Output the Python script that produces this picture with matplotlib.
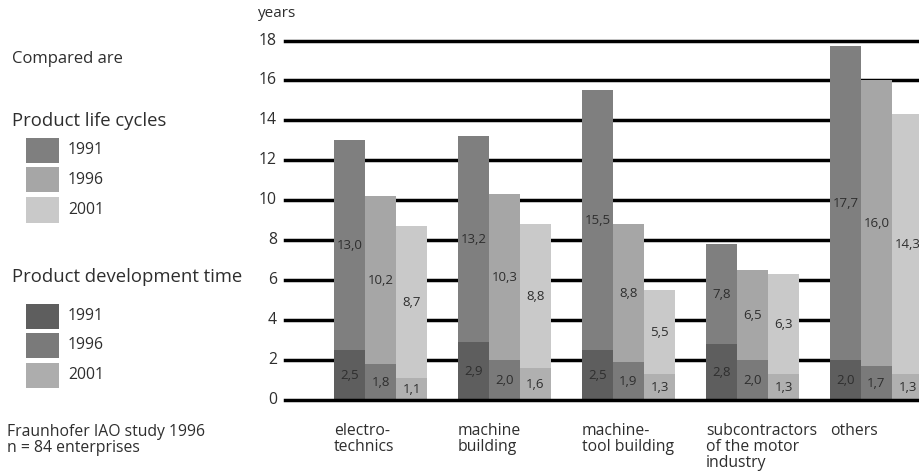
import matplotlib
matplotlib.use("Agg")
import matplotlib.pyplot as plt
from matplotlib.patches import Rectangle

plt.rcParams['font.family'] = ['Open Sans', 'DejaVu Sans']

# Industries and survey years
categories = ["electro-\ntechnics", "machine\nbuilding", "machine-\ntool building",
              "subcontractors\nof the motor\nindustry", "others"]
years = ["1991", "1996", "2001"]

# Product life cycles (years)
life_1991 = [13.0, 13.2, 15.5, 7.8, 17.7]
life_1996 = [10.2, 10.3, 8.8, 6.5, 16.0]
life_2001 = [8.7, 8.8, 5.5, 6.3, 14.3]

# Product development time (years)
dev_1991 = [2.5, 2.9, 2.5, 2.8, 2.0]
dev_1996 = [1.8, 2.0, 1.9, 2.0, 1.7]
dev_2001 = [1.1, 1.6, 1.3, 1.3, 1.3]

y_ticks = [0, 2, 4, 6, 8, 10, 12, 14, 16, 18]

life_colors = ["#7f7f7f", "#a6a6a6", "#c9c9c9"]
dev_colors = ["#5e5e5e", "#7a7a7a", "#b0b0b0"]
dev_legend_colors = ["#5e5e5e", "#7a7a7a", "#adadad"]
text_color = "#2e2e2e"

W, H = 920, 475
fig = plt.figure(figsize=(W / 100, H / 100), dpi=100)

# Axes placement in pixels
x_left_px, x_right_px = 285, 920
y0_px, y18_px = 400, 40.5
ax = fig.add_axes([x_left_px / W, (H - y0_px) / H,
                   (x_right_px - x_left_px) / W, (y0_px - y18_px) / H])
ax.set_ylim(0, 18)

group_px = 124.0
first_center_px = 380.5
xmin = (x_left_px - first_center_px) / group_px
xmax = (x_right_px - first_center_px) / group_px
ax.set_xlim(xmin, xmax)

bar_w = 31.0 / group_px
offsets = [-bar_w, 0.0, bar_w]

for s in ax.spines.values():
    s.set_visible(False)
ax.set_xticks([])
ax.set_yticks([])

# Thick horizontal grid lines
for t in y_ticks:
    ax.axhline(t, color="black", lw=2.5, zorder=1 if t > 0 else 5, clip_on=False)
    ax.text(xmin - 8 / group_px, t, str(t), ha="right", va="center",
            fontsize=11.3, color=text_color)
ax.text(xmin - 27 / group_px, 19.35, "years", ha="left", va="center",
        fontsize=11, color=text_color)

life = [life_1991, life_1996, life_2001]
dev = [dev_1991, dev_1996, dev_2001]

for j in range(3):
    xs = [i + offsets[j] for i in range(len(categories))]
    ax.bar(xs, life[j], width=bar_w, color=life_colors[j], zorder=2, linewidth=0)
    ax.bar(xs, dev[j], width=bar_w, color=dev_colors[j], zorder=3, linewidth=0)
    for x, lv, dv in zip(xs, life[j], dev[j]):
        ax.text(x, (lv + dv) / 2, f"{lv:.1f}".replace(".", ","), ha="center",
                va="center", fontsize=9.5, color=text_color, zorder=6)
        ax.text(x, max(dv / 2, 0.5), f"{dv:.1f}".replace(".", ","), ha="center",
                va="center", fontsize=9.5, color=text_color, zorder=6)

# Category labels below the axis, aligned to the left edge of each group
for i, cat in enumerate(categories):
    ax.text(i + offsets[0] - bar_w / 2, -1.15, cat, ha="left", va="top",
            fontsize=11.3, color=text_color, linespacing=1.02)

# Left-hand explanatory legend
def fig_text(x_px, y_px, s, size, **kw):
    fig.text(x_px / W, 1 - y_px / H, s, fontsize=size, color=text_color,
             va="center", ha="left", **kw)

def fig_box(x_px, y_px, w_px, h_px, color):
    fig.patches.append(Rectangle((x_px / W, 1 - (y_px + h_px) / H), w_px / W, h_px / H,
                                 transform=fig.transFigure, facecolor=color,
                                 edgecolor="none"))

fig_text(12, 59, "Compared are", 12)
fig_text(12, 121, "Product life cycles", 13.3)
for k, (yc, c) in enumerate(zip([150, 180, 210], life_colors)):
    fig_box(26, yc - 12.5, 33, 25, c)
    fig_text(68, yc, years[k], 11.3)

fig_text(12, 277, "Product development time", 13.3)
for k, (yc, c) in enumerate(zip([316, 345, 375], dev_legend_colors)):
    fig_box(26, yc - 12.5, 33, 25, c)
    fig_text(68, yc, years[k], 11.3)

fig_text(7, 432, "Fraunhofer IAO study 1996", 11.3)
fig_text(7, 448, "n = 84 enterprises", 11.3)

fig.savefig("out.png", dpi=100)
